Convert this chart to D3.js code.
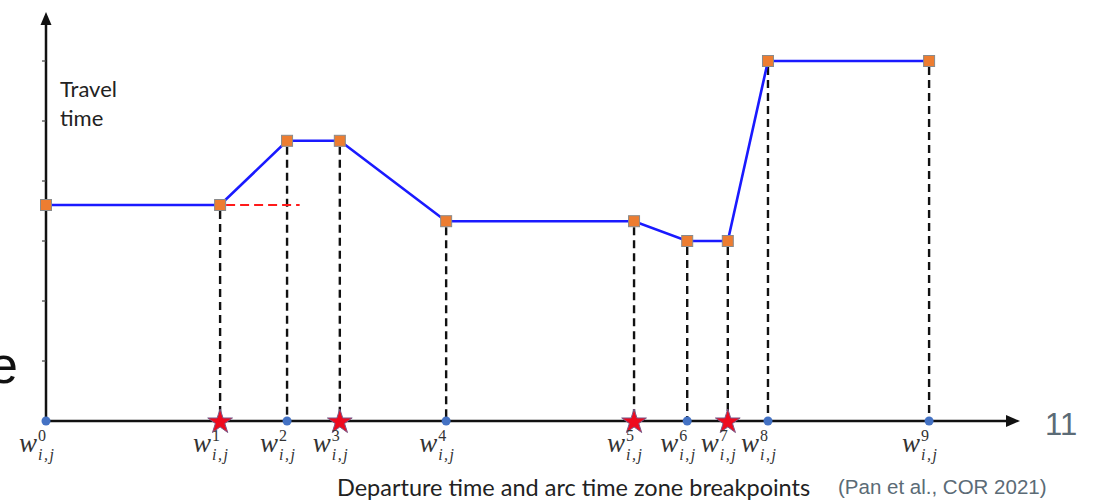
<!DOCTYPE html>
<meta charset="utf-8">
<style>
body { margin: 0; background: #fff; }
.dash { stroke: #111; stroke-width: 2.4px; stroke-dasharray: 8,5; }
.wlab { font-family: "Liberation Serif", "DejaVu Serif", serif; fill: #333; }
</style>
<body>
<script src="https://d3js.org/d3.v7.min.js"></script>
<script>

// breakpoint data
var breakpoints = ["0", "1", "2", "3", "4", "5", "6", "7", "8", "9"];
var departTimes = [0, 4.29, 5.94, 7.24, 9.86, 14.49, 15.8, 16.8, 17.79, 21.76];
var travelTimes = [3.6, 3.6, 4.67, 4.67, 3.33, 3.33, 3.0, 3.0, 6.0, 6.0];
var markerType = ["dot", "star", "dot", "star", "dot", "star", "dot", "star", "dot", "dot"];
var yTicks = [1, 2, 3, 4, 5, 6];

var width = 1094, height = 500;

// set the ranges
var x = d3.scaleLinear().domain([0, 24]).range([46, 1020]);
var y = d3.scaleLinear().domain([0, 7]).range([421, 1]);

var svg = d3.select("body").append("svg")
    .attr("width", width)
    .attr("height", height);

var data = departTimes.map(function(t, i) {
  return {t: t, v: travelTimes[i], k: breakpoints[i], m: markerType[i]};
});

// cut-off letter from the slide behind
svg.append("text")
    .attr("x", -11).attr("y", 383)
    .style("font", "52px 'Liberation Sans', Arial, sans-serif")
    .style("fill", "#111")
    .text("e");

// dashed drop lines
svg.selectAll(".dash")
    .data(data.slice(1))
  .enter().append("line")
    .attr("class", "dash")
    .attr("x1", function(d) { return x(d.t); })
    .attr("x2", function(d) { return x(d.t); })
    .attr("y1", function(d) { return y(d.v) + 6; })
    .attr("y2", y(0));

// red dashed reference from w1
svg.append("line")
    .attr("x1", x(departTimes[1]) + 6)
    .attr("x2", x(6.25))
    .attr("y1", y(travelTimes[1]))
    .attr("y2", y(travelTimes[1]))
    .style("stroke", "#ff1a1a")
    .style("stroke-width", 2.2)
    .style("stroke-dasharray", "9,5");

// y axis with arrow
svg.append("line")
    .attr("x1", x(0)).attr("x2", x(0))
    .attr("y1", y(0)).attr("y2", y(6.75))
    .style("stroke", "#111").style("stroke-width", 2.5);
svg.append("path")
    .attr("d", "M" + x(0) + "," + (y(0) - 409) + " l-5.5,13 l11,0 z")
    .style("fill", "#111");

// y tick marks
svg.selectAll(".ytick")
    .data(yTicks)
  .enter().append("line")
    .attr("x1", x(0) - 4).attr("x2", x(0))
    .attr("y1", function(d) { return y(d); })
    .attr("y2", function(d) { return y(d); })
    .style("stroke", "#444").style("stroke-width", 1.2);

// x axis with arrow
svg.append("line")
    .attr("x1", x(0)).attr("x2", x(24) - 12)
    .attr("y1", y(0)).attr("y2", y(0))
    .style("stroke", "#111").style("stroke-width", 2.5);
svg.append("path")
    .attr("d", "M" + x(24) + "," + y(0) + " l-14,-6 l0,12 z")
    .style("fill", "#111");

// travel time line
var valueline = d3.line()
    .x(function(d) { return x(d.t); })
    .y(function(d) { return y(d.v); });

svg.append("path")
    .datum(data)
    .attr("d", valueline)
    .style("fill", "none")
    .style("stroke", "#1a1aff")
    .style("stroke-width", 2.6);

// orange squares
svg.selectAll(".sq")
    .data(data)
  .enter().append("rect")
    .attr("x", function(d) { return x(d.t) - 5.5; })
    .attr("y", function(d) { return y(d.v) - 5.5; })
    .attr("width", 11).attr("height", 11)
    .style("fill", "#ed7d31")
    .style("stroke", "#8a8a8a")
    .style("stroke-width", 1);

// axis markers
svg.selectAll(".dot")
    .data(data.filter(function(d) { return d.m == "dot"; }))
  .enter().append("circle")
    .attr("cx", function(d) { return x(d.t); })
    .attr("cy", y(0))
    .attr("r", 4.5)
    .style("fill", "#4472c4");

svg.selectAll(".star")
    .data(data.filter(function(d) { return d.m == "star"; }))
  .enter().append("path")
    .attr("d", d3.symbol().type(d3.symbolStar).size(190))
    .attr("transform", function(d) { return "translate(" + x(d.t) + "," + (y(0) + 1) + ")"; })
    .style("fill", "#ee0a1e")
    .style("stroke", "#7a5a8a")
    .style("stroke-width", 1);

// breakpoint labels w^k_{i,j}
var lab = svg.selectAll(".lab")
    .data(data)
  .enter().append("g")
    .attr("class", "wlab")
    .attr("transform", function(d) { return "translate(" + x(d.t) + ",0)"; });

lab.append("text")
    .attr("x", -27).attr("y", 452)
    .style("font-size", "27px").style("font-style", "italic")
    .text("w");
lab.append("text")
    .attr("x", -8).attr("y", 441)
    .style("font-size", "16px")
    .text(function(d) { return d.k; });
lab.append("text")
    .attr("x", -8).attr("y", 460)
    .style("font-size", "16px").style("font-style", "italic")
    .style("letter-spacing", "1.5px")
    .text("i,j");

// text labels
svg.append("text")
    .attr("x", 60).attr("y", 97)
    .style("font", "22px Lato, 'Open Sans', sans-serif")
    .style("fill", "#222")
    .text("Travel");
svg.append("text")
    .attr("x", 60).attr("y", 126)
    .style("font", "22px Lato, 'Open Sans', sans-serif")
    .style("fill", "#222")
    .text("time");

svg.append("text")
    .attr("x", 337).attr("y", 496)
    .style("font", "23.5px Lato, 'Open Sans', sans-serif")
    .style("fill", "#222")
    .text("Departure time and arc time zone breakpoints");

svg.append("text")
    .attr("x", 838).attr("y", 494)
    .style("font", "20.5px 'Liberation Sans', Arial, sans-serif")
    .style("fill", "#5b6b76")
    .text("(Pan et al., COR 2021)");

svg.append("text")
    .attr("x", 1045).attr("y", 435)
    .style("font", "31px 'Liberation Sans', Arial, sans-serif")
    .style("fill", "#5b6b76")
    .text("11");

</script>
</body>
